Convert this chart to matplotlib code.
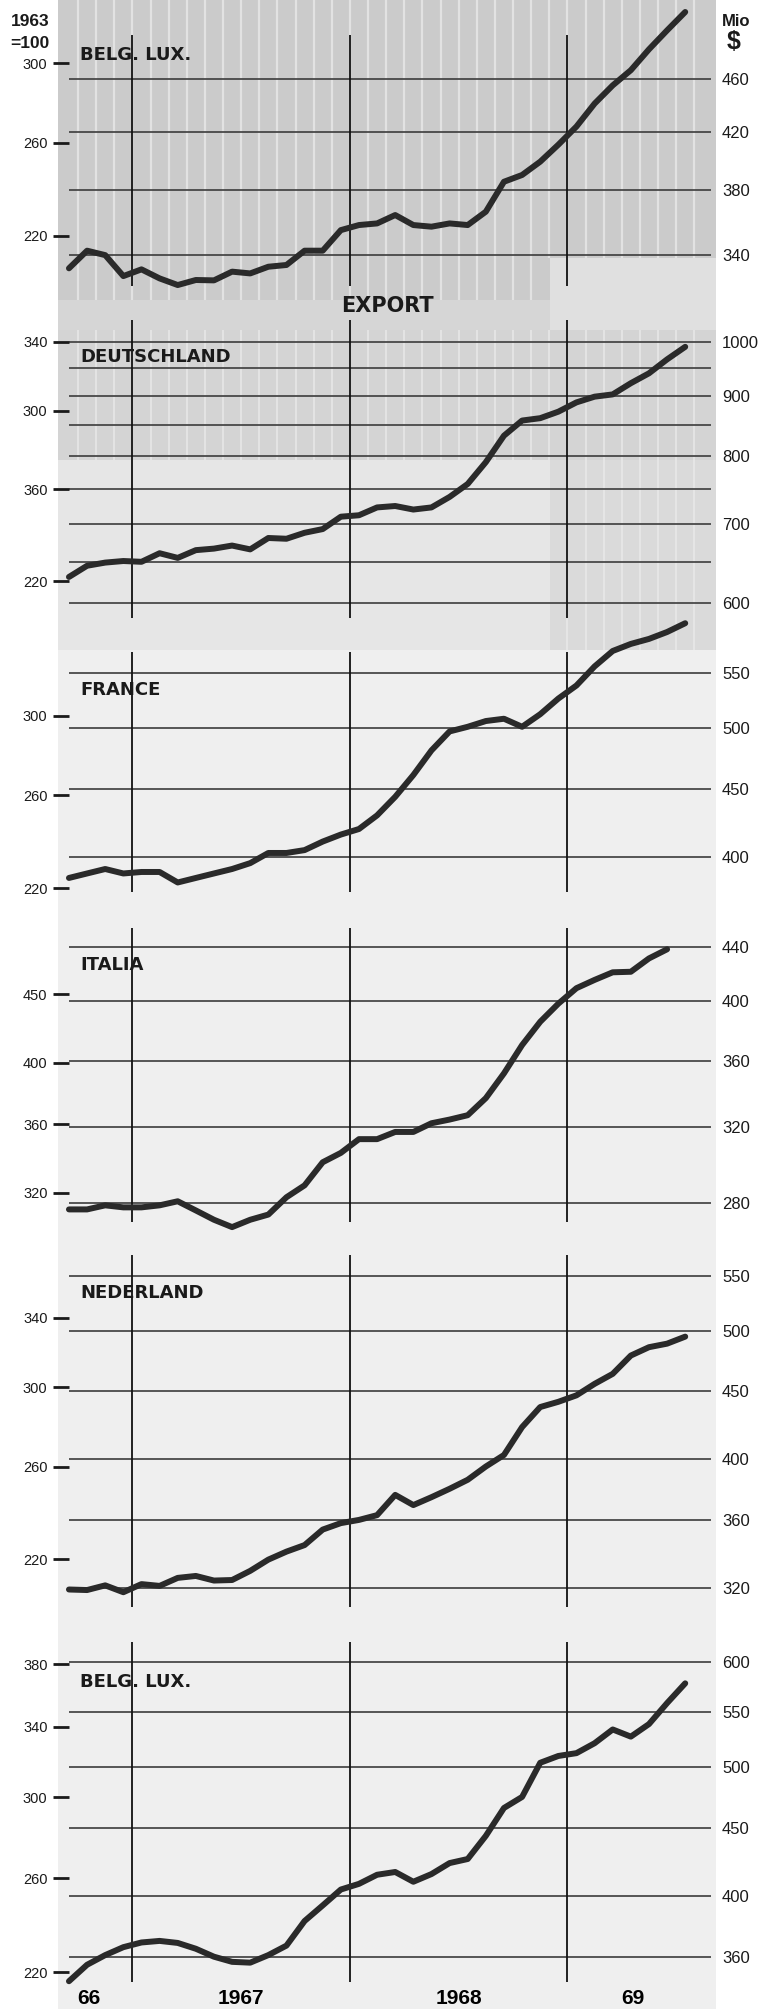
import numpy as np
import matplotlib
matplotlib.use("Agg")
import matplotlib.pyplot as plt
from matplotlib.patches import Rectangle
from matplotlib.ticker import FixedLocator, FixedFormatter, NullLocator

# Monatswerte Mio $, Sept. 1966 - Juli 1969 (Italia bis Juni 1969)
belg_lux_import = [332.5, 342.7, 340.1, 328.1, 331.9, 326.8, 323.1, 325.9, 325.7, 330.6,
                   329.6, 333.4, 334.4, 342.7, 342.7, 355, 358.1, 359.1, 364.3, 358.1,
                   357.1, 359.1, 358.1, 366.4, 385.7, 390.2, 399.2, 411, 424, 441,
                   455, 467, 484, 500, 516]
deutschland = [631, 645, 649, 651, 650, 661, 655, 665, 667, 671,
               666, 681, 680, 688, 693, 710, 712, 723, 725, 720,
               723, 738, 757, 790, 832, 857, 861, 872, 888, 898,
               902, 922, 940, 966, 990]
france = [386, 389, 392, 389, 390, 390, 383, 386, 389, 392,
          396, 403, 403, 405, 411, 416, 420, 430, 444, 461,
          481, 497, 501, 506, 508, 501, 512, 526, 538, 556,
          571, 578, 583, 590, 599]
italia = [277, 277, 279, 278, 278, 279, 281, 276.5, 272, 268.5,
          272, 274.5, 283, 289, 301, 306, 313.5, 313.5, 317.5, 317.5,
          322.4, 324.5, 327, 337, 352, 370, 385.5, 398, 409, 415,
          420.6, 421, 431, 438]
nederland = [319, 318.7, 321.3, 317.5, 322, 321, 325.5, 326.6, 324, 324.3,
             329.5, 336, 340.7, 344.6, 354, 358, 360, 363, 376, 369.4,
             374.5, 380, 386, 395, 403, 423, 438, 442, 447, 456,
             464, 479, 486, 489, 495]
belg_lux_export = [345, 355, 361, 366, 369, 370, 368.7, 365, 360, 356.8,
                   356.3, 361, 367, 383, 393.5, 404.5, 408.5, 415, 417, 410,
                   415.5, 423.5, 426.5, 444, 466, 475, 504, 510, 512.5, 521.4,
                   534, 527.4, 539, 559, 578.5]

country_names = ["BELG. LUX.", "DEUTSCHLAND", "FRANCE", "ITALIA", "NEDERLAND", "BELG. LUX."]
series = [belg_lux_import, deutschland, france, italia, nederland, belg_lux_export]

# Gitterlinien (Mio $) und Index-Marken (1963=100)
grid_values = [[340, 380, 420, 460],
               [600, 650, 700, 750, 800, 850, 900, 950, 1000],
               [400, 450, 500, 550],
               [280, 320, 360, 400, 440],
               [320, 360, 400, 450, 500, 550],
               [360, 400, 450, 500, 550, 600]]
right_labels = [[340, 380, 420, 460],
                [600, 700, 800, 900, 1000],
                [400, 450, 500, 550],
                [280, 320, 360, 400, 440],
                [320, 360, 400, 450, 500, 550],
                [360, 400, 450, 500, 550, 600]]
index_ticks = [[220, 260, 300],
               [220, 260, 300, 340],
               [220, 260, 300],
               [320, 360, 400, 450],
               [220, 260, 300, 340],
               [220, 260, 300, 340, 380]]
index_labels = [["220", "260", "300"],
                ["220", "360", "300", "340"],
                ["220", "260", "300"],
                ["320", "360", "400", "450"],
                ["220", "260", "300", "340"],
                ["220", "260", "300", "340", "380"]]

year_lines = [1967, 1968, 1969]
x_tick_pos = [1966.8, 1967.5, 1968.5, 1969.3]
x_tick_lab = ["66", "1967", "1968", "69"]

# ---- layout (pixel) ----
W, H = 763, 2009
X_JAN67, PX_YEAR = 132.4, 217.5
AX_L, AX_R = 69, 711
# top, bottom, right calibration (v, y, v, y), left calibration, label y
layout = [
    (35, 286, (460, 79, 340, 255.3), (300, 63.3, 220, 235.7), 55),
    (320, 618, (1000, 341.7, 600, 602.7), (340, 341.7, 220, 581), 357),
    (651.7, 891.7, (550, 672.7, 400, 857.3), (300, 715.7, 220, 888.3), 690),
    (928.3, 1221.7, (440, 946.7, 280, 1203.3), (450, 994, 320, 1192.7), 965),
    (1255, 1607.3, (550, 1276, 320, 1587.7), (340, 1317.7, 220, 1559.3), 1293),
    (1641.7, 1981.7, (600, 1662.3, 360, 1956.7), (380, 1664, 220, 1972.3), 1682),
]

LINE_C = "#2a2a2a"
GRID_C = "#3c3c3c"
TXT_C = "#1a1a1a"
NUM_FONT = ["Liberation Sans", "DejaVu Sans"]


def yr_to_px(t):
    return X_JAN67 + (t - 1967) * PX_YEAR


def log_lim(top, bot, cal):
    v1, y1, v2, y2 = cal
    s = (y2 - y1) / np.log(v1 / v2)
    return v1 * np.exp((y1 - bot) / s), v1 * np.exp((y1 - top) / s)


fig = plt.figure(figsize=(W / 100, H / 100), dpi=100)
fig.patch.set_facecolor("white")

# Hintergrund (Raster des Drucks)
bg = fig.add_axes([0, 0, 1, 1], zorder=-10)
bg.set_xlim(0, W)
bg.set_ylim(H, 0)
bg.axis("off")
for x0, y0, x1, y1, c in [(58, 0, 716, 300, "#cbcbcb"),
                          (58, 300, 550, 330, "#d6d6d6"),
                          (550, 258, 716, 330, "#e0e0e0"),
                          (58, 330, 716, 460, "#d4d4d4"),
                          (58, 460, 550, 650, "#e6e6e6"),
                          (550, 460, 716, 650, "#dadada"),
                          (58, 650, 716, H, "#efefef")]:
    bg.add_patch(Rectangle((x0, y0), x1 - x0, y1 - y0, color=c, lw=0))
stripes = [yr_to_px(1966 + k / 12) for k in range(8, 44)]
stripes = [s for s in stripes if 60 < s < 714]
bg.vlines(stripes, 0, 258, color="#e2e2e2", lw=1.6)
bg.vlines([s for s in stripes if s < 548], 258, 300, color="#e2e2e2", lw=1.6)
bg.vlines(stripes, 330, 460, color="#e4e4e4", lw=1.4)
bg.vlines([s for s in stripes if s > 552], 460, 650, color="#e6e6e6", lw=1.4)

x_left = 1967 + (AX_L - X_JAN67) / PX_YEAR
x_right = 1967 + (AX_R - X_JAN67) / PX_YEAR

for i, (top, bot, rcal, lcal, lab_y) in enumerate(layout):
    ax = fig.add_axes([AX_L / W, 1 - bot / H, (AX_R - AX_L) / W, (bot - top) / H])
    ax.set_facecolor("none")
    vals = series[i]
    x = 1966 + (8.5 + np.arange(len(vals))) / 12

    ax.set_yscale("log")
    ax.set_ylim(*log_lim(top, bot, rcal))
    ax.set_xlim(x_left, x_right)

    for g in grid_values[i]:
        ax.axhline(g, color=GRID_C, lw=1.2, zorder=1)
    for yl in year_lines:
        ax.axvline(yl, color="#111111", lw=1.3, zorder=1)
    ax.plot(x, vals, color=LINE_C, lw=4.3, solid_joinstyle="round",
            solid_capstyle="round", zorder=5, clip_on=False)

    ax2 = ax.twinx()
    ax2.set_yscale("log")
    ax2.set_ylim(*log_lim(top, bot, lcal))
    ax2.yaxis.tick_left()
    ax.yaxis.tick_right()

    ax.yaxis.set_major_locator(FixedLocator(right_labels[i]))
    ax.yaxis.set_major_formatter(FixedFormatter([str(v) for v in right_labels[i]]))
    ax.yaxis.set_minor_locator(NullLocator())
    ax.tick_params(axis="y", length=0, pad=8, labelsize=12, labelcolor=TXT_C)

    ax2.yaxis.set_major_locator(FixedLocator(index_ticks[i]))
    ax2.yaxis.set_major_formatter(FixedFormatter(index_labels[i]))
    ax2.yaxis.set_minor_locator(NullLocator())
    ax2.tick_params(axis="y", direction="out", length=11.5, width=2, pad=4,
                    labelsize=10.5, color=TXT_C, labelcolor=TXT_C)

    for lab in ax.get_yticklabels() + ax2.get_yticklabels():
        lab.set_family(NUM_FONT)

    for a in (ax, ax2):
        for sp in a.spines.values():
            sp.set_visible(False)

    if i == len(layout) - 1:
        ax.set_xticks(x_tick_pos, x_tick_lab)
        ax.tick_params(axis="x", length=0, pad=5, labelsize=15)
        for lab in ax.get_xticklabels():
            lab.set_family(NUM_FONT)
            lab.set_fontweight("bold")
    else:
        ax.set_xticks([])

    fig.text(80 / W, 1 - lab_y / H, country_names[i], fontsize=13, fontweight="bold",
             color=TXT_C, va="center", ha="left", family="DejaVu Sans", zorder=10)

fig.text(387 / W, 1 - 306 / H, "EXPORT", fontsize=15, fontweight="bold",
         color=TXT_C, ha="center", va="center", family="DejaVu Sans")
fig.text(30 / W, 1 - 22 / H, "1963", fontsize=12.5, fontweight="bold", ha="center",
         va="center", family=NUM_FONT, color=TXT_C)
fig.text(30 / W, 1 - 43 / H, "=100", fontsize=12.5, fontweight="bold", ha="center",
         va="center", family=NUM_FONT, color=TXT_C)
fig.text(722 / W, 1 - 21 / H, "Mio", fontsize=12, fontweight="bold", ha="left",
         va="center", family=NUM_FONT, color=TXT_C)
fig.text(727 / W, 1 - 42 / H, "$", fontsize=18, fontweight="bold", ha="left",
         va="center", family=NUM_FONT, color=TXT_C)

fig.savefig("out.png", dpi=100)
